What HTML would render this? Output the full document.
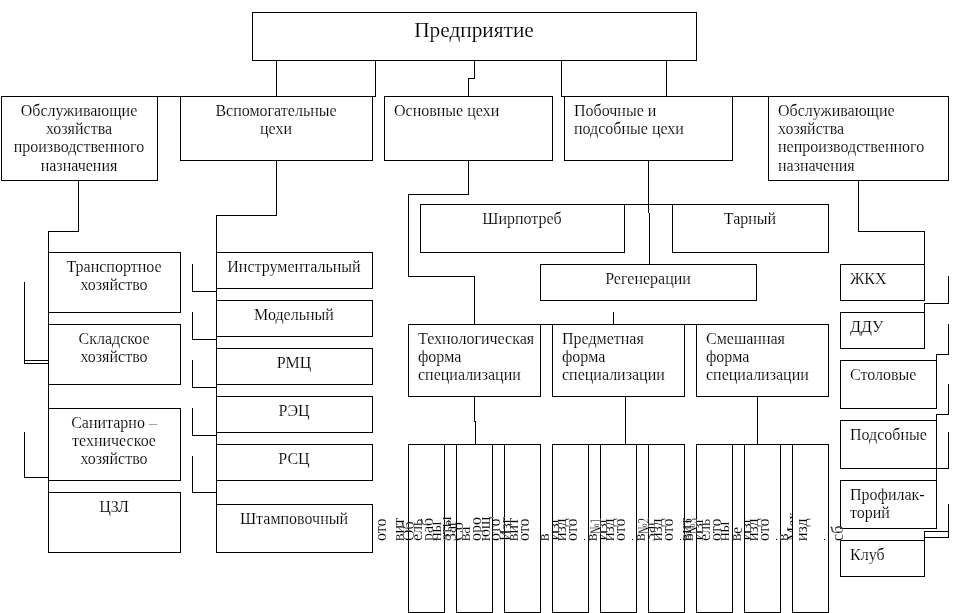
<!DOCTYPE html>
<html lang="ru"><head><meta charset="utf-8"><title>Предприятие</title>
<style>
html,body{margin:0;padding:0;background:#fff}
body{width:962px;height:613px;overflow:hidden}
svg{display:block;filter:grayscale(1)}
text{font-family:"Liberation Serif","DejaVu Serif",serif;fill:#000;stroke:#fff;stroke-width:.15px;paint-order:fill stroke}
</style></head><body>
<svg width="962" height="613" viewBox="0 0 962 613">
<g shape-rendering="crispEdges" fill="#000">
<rect x="252" y="12" width="445" height="1"/><rect x="252" y="60" width="445" height="1"/><rect x="252" y="12" width="1" height="49"/><rect x="696" y="12" width="1" height="49"/><rect x="1" y="96" width="157" height="1"/><rect x="1" y="180" width="157" height="1"/><rect x="1" y="96" width="1" height="85"/><rect x="157" y="96" width="1" height="85"/><rect x="180" y="96" width="193" height="1"/><rect x="180" y="160" width="193" height="1"/><rect x="180" y="96" width="1" height="65"/><rect x="372" y="96" width="1" height="65"/><rect x="384" y="96" width="169" height="1"/><rect x="384" y="160" width="169" height="1"/><rect x="384" y="96" width="1" height="65"/><rect x="552" y="96" width="1" height="65"/><rect x="564" y="96" width="169" height="1"/><rect x="564" y="160" width="169" height="1"/><rect x="564" y="96" width="1" height="65"/><rect x="732" y="96" width="1" height="65"/><rect x="768" y="96" width="181" height="1"/><rect x="768" y="180" width="181" height="1"/><rect x="768" y="96" width="1" height="85"/><rect x="948" y="96" width="1" height="85"/><rect x="48" y="252" width="133" height="1"/><rect x="48" y="312" width="133" height="1"/><rect x="48" y="252" width="1" height="61"/><rect x="180" y="252" width="1" height="61"/><rect x="48" y="324" width="133" height="1"/><rect x="48" y="384" width="133" height="1"/><rect x="48" y="324" width="1" height="61"/><rect x="180" y="324" width="1" height="61"/><rect x="48" y="408" width="133" height="1"/><rect x="48" y="480" width="133" height="1"/><rect x="48" y="408" width="1" height="73"/><rect x="180" y="408" width="1" height="73"/><rect x="48" y="492" width="133" height="1"/><rect x="48" y="552" width="133" height="1"/><rect x="48" y="492" width="1" height="61"/><rect x="180" y="492" width="1" height="61"/><rect x="216" y="252" width="157" height="1"/><rect x="216" y="288" width="157" height="1"/><rect x="216" y="252" width="1" height="37"/><rect x="372" y="252" width="1" height="37"/><rect x="216" y="300" width="157" height="1"/><rect x="216" y="336" width="157" height="1"/><rect x="216" y="300" width="1" height="37"/><rect x="372" y="300" width="1" height="37"/><rect x="216" y="348" width="157" height="1"/><rect x="216" y="384" width="157" height="1"/><rect x="216" y="348" width="1" height="37"/><rect x="372" y="348" width="1" height="37"/><rect x="216" y="396" width="157" height="1"/><rect x="216" y="432" width="157" height="1"/><rect x="216" y="396" width="1" height="37"/><rect x="372" y="396" width="1" height="37"/><rect x="216" y="444" width="157" height="1"/><rect x="216" y="480" width="157" height="1"/><rect x="216" y="444" width="1" height="37"/><rect x="372" y="444" width="1" height="37"/><rect x="216" y="504" width="157" height="1"/><rect x="216" y="552" width="157" height="1"/><rect x="216" y="504" width="1" height="49"/><rect x="372" y="504" width="1" height="49"/><rect x="420" y="204" width="205" height="1"/><rect x="420" y="252" width="205" height="1"/><rect x="420" y="204" width="1" height="49"/><rect x="624" y="204" width="1" height="49"/><rect x="672" y="204" width="157" height="1"/><rect x="672" y="252" width="157" height="1"/><rect x="672" y="204" width="1" height="49"/><rect x="828" y="204" width="1" height="49"/><rect x="540" y="264" width="217" height="1"/><rect x="540" y="300" width="217" height="1"/><rect x="540" y="264" width="1" height="37"/><rect x="756" y="264" width="1" height="37"/><rect x="408" y="324" width="133" height="1"/><rect x="408" y="396" width="133" height="1"/><rect x="408" y="324" width="1" height="73"/><rect x="540" y="324" width="1" height="73"/><rect x="552" y="324" width="133" height="1"/><rect x="552" y="396" width="133" height="1"/><rect x="552" y="324" width="1" height="73"/><rect x="684" y="324" width="1" height="73"/><rect x="696" y="324" width="133" height="1"/><rect x="696" y="396" width="133" height="1"/><rect x="696" y="324" width="1" height="73"/><rect x="828" y="324" width="1" height="73"/><rect x="840" y="264" width="85" height="1"/><rect x="840" y="300" width="85" height="1"/><rect x="840" y="264" width="1" height="37"/><rect x="924" y="264" width="1" height="37"/><rect x="840" y="312" width="85" height="1"/><rect x="840" y="348" width="85" height="1"/><rect x="840" y="312" width="1" height="37"/><rect x="924" y="312" width="1" height="37"/><rect x="840" y="360" width="97" height="1"/><rect x="840" y="408" width="97" height="1"/><rect x="840" y="360" width="1" height="49"/><rect x="936" y="360" width="1" height="49"/><rect x="840" y="420" width="97" height="1"/><rect x="840" y="468" width="97" height="1"/><rect x="840" y="420" width="1" height="49"/><rect x="936" y="420" width="1" height="49"/><rect x="840" y="480" width="97" height="1"/><rect x="840" y="528" width="97" height="1"/><rect x="840" y="480" width="1" height="49"/><rect x="936" y="480" width="1" height="49"/><rect x="840" y="540" width="85" height="1"/><rect x="840" y="576" width="85" height="1"/><rect x="840" y="540" width="1" height="37"/><rect x="924" y="540" width="1" height="37"/><rect x="408" y="444" width="37" height="1"/><rect x="408" y="612" width="37" height="1"/><rect x="408" y="444" width="1" height="169"/><rect x="444" y="444" width="1" height="169"/><rect x="456" y="444" width="37" height="1"/><rect x="456" y="612" width="37" height="1"/><rect x="456" y="444" width="1" height="169"/><rect x="492" y="444" width="1" height="169"/><rect x="504" y="444" width="37" height="1"/><rect x="504" y="612" width="37" height="1"/><rect x="504" y="444" width="1" height="169"/><rect x="540" y="444" width="1" height="169"/><rect x="552" y="444" width="37" height="1"/><rect x="552" y="612" width="37" height="1"/><rect x="552" y="444" width="1" height="169"/><rect x="588" y="444" width="1" height="169"/><rect x="600" y="444" width="37" height="1"/><rect x="600" y="612" width="37" height="1"/><rect x="600" y="444" width="1" height="169"/><rect x="636" y="444" width="1" height="169"/><rect x="648" y="444" width="37" height="1"/><rect x="648" y="612" width="37" height="1"/><rect x="648" y="444" width="1" height="169"/><rect x="684" y="444" width="1" height="169"/><rect x="696" y="444" width="37" height="1"/><rect x="696" y="612" width="37" height="1"/><rect x="696" y="444" width="1" height="169"/><rect x="732" y="444" width="1" height="169"/><rect x="744" y="444" width="37" height="1"/><rect x="744" y="612" width="37" height="1"/><rect x="744" y="444" width="1" height="169"/><rect x="780" y="444" width="1" height="169"/><rect x="792" y="444" width="37" height="1"/><rect x="792" y="612" width="37" height="1"/><rect x="792" y="444" width="1" height="169"/><rect x="828" y="444" width="1" height="169"/><rect x="1" y="96" width="375" height="1"/><rect x="561" y="96" width="388" height="1"/><rect x="420" y="204" width="409" height="1"/><rect x="408" y="324" width="421" height="1"/><rect x="408" y="444" width="133" height="1"/><rect x="552" y="444" width="133" height="1"/><rect x="696" y="444" width="133" height="1"/><rect x="276" y="60" width="1" height="37"/><rect x="375" y="60" width="1" height="37"/><rect x="474" y="60" width="1" height="19"/><rect x="468" y="78" width="7" height="1"/><rect x="468" y="78" width="1" height="19"/><rect x="561" y="60" width="1" height="37"/><rect x="666" y="60" width="1" height="37"/><rect x="78" y="180" width="1" height="52"/><rect x="48" y="231" width="31" height="1"/><rect x="48" y="231" width="1" height="322"/><rect x="24" y="282" width="1" height="82"/><rect x="24" y="360" width="25" height="1"/><rect x="24" y="363" width="25" height="1"/><rect x="24" y="432" width="1" height="46"/><rect x="24" y="477" width="25" height="1"/><rect x="276" y="160" width="1" height="56"/><rect x="216" y="215" width="61" height="1"/><rect x="216" y="215" width="1" height="338"/><rect x="192" y="264" width="1" height="28"/><rect x="192" y="291" width="25" height="1"/><rect x="192" y="312" width="1" height="28"/><rect x="192" y="339" width="25" height="1"/><rect x="192" y="360" width="1" height="28"/><rect x="192" y="387" width="25" height="1"/><rect x="192" y="408" width="1" height="28"/><rect x="192" y="435" width="25" height="1"/><rect x="192" y="456" width="1" height="37"/><rect x="192" y="492" width="25" height="1"/><rect x="468" y="160" width="1" height="35"/><rect x="408" y="194" width="61" height="1"/><rect x="408" y="194" width="1" height="83"/><rect x="408" y="276" width="67" height="1"/><rect x="474" y="276" width="1" height="49"/><rect x="474" y="396" width="1" height="26"/><rect x="475" y="421" width="1" height="24"/><rect x="648" y="160" width="1" height="53"/><rect x="649" y="213" width="1" height="52"/><rect x="613" y="312" width="1" height="13"/><rect x="625" y="396" width="1" height="49"/><rect x="757" y="396" width="1" height="49"/><rect x="858" y="180" width="1" height="52"/><rect x="858" y="231" width="67" height="1"/><rect x="924" y="231" width="1" height="34"/><rect x="948" y="276" width="1" height="28"/><rect x="924" y="303" width="25" height="1"/><rect x="924" y="303" width="1" height="10"/><rect x="948" y="324" width="1" height="31"/><rect x="936" y="354" width="13" height="1"/><rect x="936" y="354" width="1" height="7"/><rect x="948" y="384" width="1" height="31"/><rect x="936" y="414" width="13" height="1"/><rect x="936" y="414" width="1" height="7"/><rect x="948" y="432" width="1" height="37"/><rect x="936" y="468" width="13" height="1"/><rect x="936" y="468" width="1" height="13"/><rect x="948" y="504" width="1" height="34"/><rect x="924" y="531" width="25" height="1"/><rect x="924" y="537" width="25" height="1"/><rect x="924" y="531" width="1" height="10"/><rect x="584" y="539" width="1" height="1"/><rect x="632" y="539" width="1" height="1"/><rect x="680" y="539" width="1" height="1"/><rect x="776" y="539" width="1" height="1"/><rect x="824" y="539" width="1" height="1"/>
</g>
<g>
<text x="474" y="37" text-anchor="middle" font-size="21.33">Предприятие</text>
<text x="79" y="116" text-anchor="middle" font-size="16">Обслуживающие</text>
<text x="79" y="134" text-anchor="middle" font-size="16">хозяйства</text>
<text x="79" y="152" text-anchor="middle" font-size="16">производственного</text>
<text x="79" y="171" text-anchor="middle" font-size="16">назначения</text>
<text x="276" y="116" text-anchor="middle" font-size="16">Вспомогательные</text>
<text x="276" y="134" text-anchor="middle" font-size="16">цехи</text>
<text x="394" y="116" text-anchor="start" font-size="16">Основные цехи</text>
<text x="574" y="116" text-anchor="start" font-size="16">Побочные и</text>
<text x="574" y="134" text-anchor="start" font-size="16">подсобные цехи</text>
<text x="778" y="116" text-anchor="start" font-size="16">Обслуживающие</text>
<text x="778" y="134" text-anchor="start" font-size="16">хозяйства</text>
<text x="778" y="152" text-anchor="start" font-size="16">непроизводственного</text>
<text x="778" y="171" text-anchor="start" font-size="16">назначения</text>
<text x="114" y="272" text-anchor="middle" font-size="16">Транспортное</text>
<text x="114" y="290" text-anchor="middle" font-size="16">хозяйство</text>
<text x="114" y="344" text-anchor="middle" font-size="16">Складское</text>
<text x="114" y="362" text-anchor="middle" font-size="16">хозяйство</text>
<text x="114" y="428" text-anchor="middle" font-size="16">Санитарно –</text>
<text x="114" y="446" text-anchor="middle" font-size="16">техническое</text>
<text x="114" y="464" text-anchor="middle" font-size="16">хозяйство</text>
<text x="114" y="512" text-anchor="middle" font-size="16">ЦЗЛ</text>
<text x="294" y="272" text-anchor="middle" font-size="16">Инструментальный</text>
<text x="294" y="320" text-anchor="middle" font-size="16">Модельный</text>
<text x="294" y="368" text-anchor="middle" font-size="16">РМЦ</text>
<text x="294" y="416" text-anchor="middle" font-size="16">РЭЦ</text>
<text x="294" y="464" text-anchor="middle" font-size="16">РСЦ</text>
<text x="294" y="524" text-anchor="middle" font-size="16">Штамповочный</text>
<text x="522" y="224" text-anchor="middle" font-size="16">Ширпотреб</text>
<text x="750" y="224" text-anchor="middle" font-size="16">Тарный</text>
<text x="648" y="284" text-anchor="middle" font-size="16">Регенерации</text>
<text x="418" y="344" text-anchor="start" font-size="16">Технологическая</text>
<text x="418" y="362" text-anchor="start" font-size="16">форма</text>
<text x="418" y="380" text-anchor="start" font-size="16">специализации</text>
<text x="562" y="344" text-anchor="start" font-size="16">Предметная</text>
<text x="562" y="362" text-anchor="start" font-size="16">форма</text>
<text x="562" y="380" text-anchor="start" font-size="16">специализации</text>
<text x="706" y="344" text-anchor="start" font-size="16">Смешанная</text>
<text x="706" y="362" text-anchor="start" font-size="16">форма</text>
<text x="706" y="380" text-anchor="start" font-size="16">специализации</text>
<text x="850" y="284" text-anchor="start" font-size="16">ЖКХ</text>
<text x="850" y="332" text-anchor="start" font-size="16">ДДУ</text>
<text x="850" y="380" text-anchor="start" font-size="16">Столовые</text>
<text x="850" y="440" text-anchor="start" font-size="16">Подсобные</text>
<text x="850" y="500" text-anchor="start" font-size="16">Профилак-</text>
<text x="850" y="518" text-anchor="start" font-size="16">торий</text>
<text x="850" y="560" text-anchor="start" font-size="16">Клуб</text>
</g>
<defs>
<clipPath id="c0"><rect x="445" y="440" width="11" height="175"/></clipPath>
<clipPath id="c1"><rect x="457" y="440" width="13" height="175"/></clipPath>
<clipPath id="c2"><rect x="493" y="440" width="11" height="175"/></clipPath>
<clipPath id="c3"><rect x="553" y="440" width="35" height="175"/></clipPath>
<clipPath id="c4"><rect x="601" y="440" width="35" height="175"/></clipPath>
<clipPath id="c5"><rect x="649" y="440" width="35" height="175"/></clipPath>
<clipPath id="c6"><rect x="745" y="440" width="35" height="175"/></clipPath>
<clipPath id="c7"><rect x="697" y="440" width="35" height="175"/></clipPath>
<clipPath id="c8"><rect x="733" y="440" width="11" height="175"/></clipPath>
<clipPath id="c9"><rect x="781" y="440" width="11" height="175"/></clipPath>
</defs>
<g font-size="16" style="stroke:none">
<text transform="translate(385.6 541) rotate(-90)">ото</text>
<text transform="translate(404 541) rotate(-90)">вит</text>
<text transform="translate(414.3 541) rotate(-90)">Об</text>
<text transform="translate(422.4 541) rotate(-90)">ель</text>
<text transform="translate(432.7 541) rotate(-90)">раб</text>
<text transform="translate(440.8 541) rotate(-90)">ны</text>
<text transform="translate(451.1 541) rotate(-90)">аты</text>
<g clip-path="url(#c0)"><text transform="translate(456 541) rotate(-90)">Заг</text></g>
<g clip-path="url(#c1)"><text transform="translate(462.8 541) rotate(-90)">Сб</text></g>
<text transform="translate(469.5 541) rotate(-90)">ва</text>
<text transform="translate(481.2 541) rotate(-90)">оро</text>
<text transform="translate(489.5 541) rotate(-90)">ющ</text>
<g clip-path="url(#c2)"><text transform="translate(500 541) rotate(-90)">ото</text></g>
<text transform="translate(511 541) rotate(-90)">Изг</text>
<text transform="translate(517.8 541) rotate(-90)">вит</text>
<text transform="translate(529 541) rotate(-90)">ото</text>
<text transform="translate(548.8 541) rotate(-90)">в</text>
<g clip-path="url(#c3)"><text transform="translate(559.1 541) rotate(-90)">Изг</text></g>
<text transform="translate(566.3 541) rotate(-90)">изд</text>
<text transform="translate(577.3 541) rotate(-90)">ото</text>
<text transform="translate(596.8 541) rotate(-90)">в</text>
<g clip-path="url(#c4)"><text transform="translate(607.1 541) rotate(-90)">Изг</text></g>
<text transform="translate(614.3 541) rotate(-90)">изд</text>
<text transform="translate(625.3 541) rotate(-90)">ото</text>
<text transform="translate(644.8 541) rotate(-90)">в</text>
<g clip-path="url(#c5)"><text transform="translate(655.1 541) rotate(-90)">Заг</text></g>
<text transform="translate(662.3 541) rotate(-90)">изд</text>
<text transform="translate(673.3 541) rotate(-90)">ото</text>
<text transform="translate(740.8 541) rotate(-90)">в</text>
<g clip-path="url(#c6)"><text transform="translate(751.1 541) rotate(-90)">Изг</text></g>
<text transform="translate(758.3 541) rotate(-90)">изд</text>
<text transform="translate(769.3 541) rotate(-90)">ото</text>
<text transform="translate(600.8 534) rotate(-90)" textLength="16" lengthAdjust="spacingAndGlyphs">№1</text>
<text transform="translate(648.8 534) rotate(-90)" textLength="16" lengthAdjust="spacingAndGlyphs">№2</text>
<text transform="translate(692.8 541) rotate(-90)">в</text>
<text transform="translate(691 541) rotate(-90)">вит</text>
<text transform="translate(696.8 534) rotate(-90)" textLength="16" lengthAdjust="spacingAndGlyphs">№3</text>
<g clip-path="url(#c7)"><text transform="translate(703.1 541) rotate(-90)">Изг</text></g>
<text transform="translate(710 541) rotate(-90)">ель</text>
<text transform="translate(721 541) rotate(-90)">ото</text>
<text transform="translate(729.3 541) rotate(-90)">ны</text>
<g clip-path="url(#c8)"><text transform="translate(741.5 534) rotate(-90)">е</text></g>
<text transform="translate(787.6 541) rotate(-90)">в</text>
<g clip-path="url(#c9)"><text transform="translate(798.2 541) rotate(-90)">Мех</text></g>
<text transform="translate(807.3 541) rotate(-90)">изд</text>
<text transform="translate(843 541) rotate(-90)">сб</text>
</g>
</svg>
</body></html>
